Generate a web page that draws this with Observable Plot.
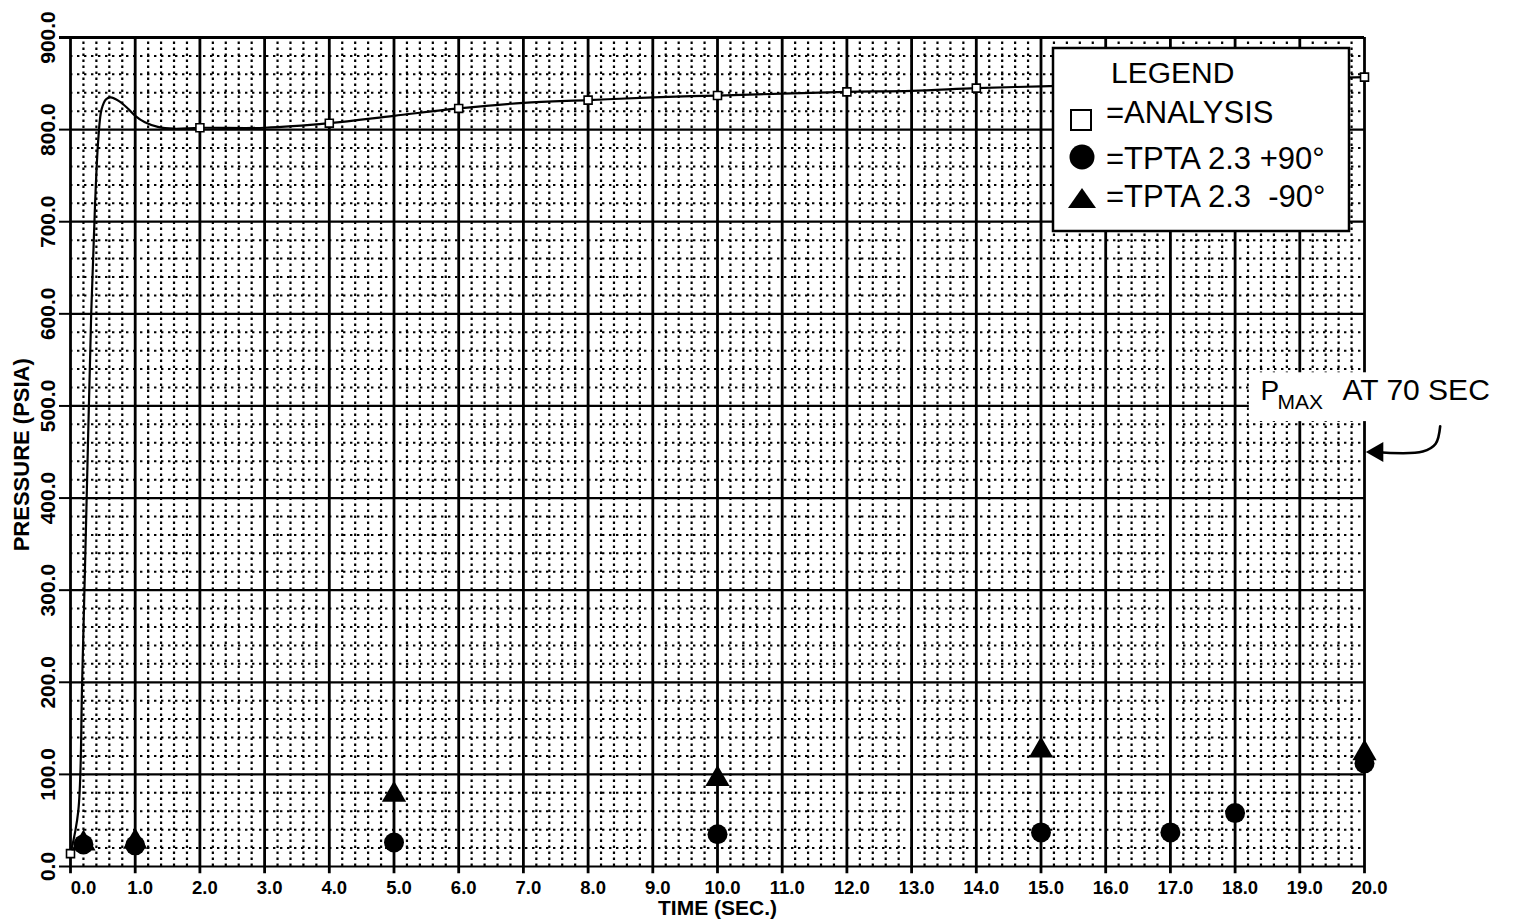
<!DOCTYPE html>
<html>
<head>
<meta charset="utf-8">
<script src="https://cdn.jsdelivr.net/npm/d3@7"></script>
<script src="https://cdn.jsdelivr.net/npm/@observablehq/plot@0.6"></script>
<style>
html,body{margin:0;padding:0;background:#fff;}
#wrap{position:relative;width:1516px;height:924px;overflow:hidden;background:#fff;}
#legend{position:absolute;left:0;top:0;pointer-events:none;font-family:"Liberation Sans",Arial,Helvetica,sans-serif;}
</style>
</head>
<body>
<div id="wrap">
<div id="chart"></div>
<svg id="legend" width="1516" height="924">
  <rect x="1053" y="48" width="296" height="183" fill="#fff" stroke="#000" stroke-width="2.5"/>
  <text x="1111" y="83" font-size="30" fill="#000">LEGEND</text>
  <rect x="1071" y="110" width="20" height="20" fill="none" stroke="#000" stroke-width="2"/>
  <text x="1106" y="123" font-size="31" fill="#000">=ANALYSIS</text>
  <circle cx="1082" cy="157" r="12.5" fill="#000"/>
  <text x="1106" y="169" font-size="31" fill="#000">=TPTA 2.3 +90°</text>
  <path d="M1068,208 L1096,208 L1082,188Z" fill="#000"/>
  <text x="1106" y="207" font-size="31" fill="#000" xml:space="preserve">=TPTA 2.3  -90°</text>
</svg>
</div>
<script>
// ---- data ----
const xTicks = [0,1,2,3,4,5,6,7,8,9,10,11,12,13,14,15,16,17,18,19,20];
const yTicks = [0,100,200,300,400,500,600,700,800,900];

// ANALYSIS curve (time s, pressure psia)
const analysisTime = [0, 0.12, 0.18, 0.25, 0.32, 0.38, 0.43, 0.48, 0.55, 0.62, 0.75, 0.9, 1.0, 1.15, 1.35, 1.6, 2.0, 3.0, 4.0, 5.0, 6.0, 7.0, 8.0, 9.0, 10.0, 11.0, 12.0, 13.0, 14.0, 15.0, 16.0, 17.0, 18.0, 19.0, 20.0];
const analysisPressure = [14, 60, 200, 400, 600, 720, 790, 822, 833, 835, 831, 822, 815, 808, 803, 801, 802, 802, 807, 815, 823, 829, 832, 835, 837, 839, 841, 842, 845, 847, 849, 851, 853, 855, 857];
// ANALYSIS square markers
const squareTime = [0, 2, 4, 6, 8, 10, 12, 14, 20];
const squarePressure = [14, 802, 807, 823, 832, 837, 841, 845, 857];

// TPTA 2.3 +90 (circles)
const plus90Time = [0.2, 1, 5, 10, 15, 17, 18, 20];
const plus90Pressure = [24, 23, 26, 35, 37, 37, 58, 112];

// TPTA 2.3 -90 (triangles)
const minus90Time = [0.2, 1, 5, 10, 15, 20];
const minus90Pressure = [25, 27, 78, 95, 126, 123];

// annotation: P_MAX at 70 sec, arrow pointing at 20 s line
const pmaxAt = {time: 20, pressure: 450};
const arrowTime = [20.15, 20.9, 21.1, 21.17];
const arrowPressure = [450, 450.5, 459, 478];

// ---- derived tables ----
const analysis = analysisTime.map((t, i) => ({t, p: analysisPressure[i]}));
const squares = squareTime.map((t, i) => ({t, p: squarePressure[i]}));
const plus90 = plus90Time.map((t, i) => ({t, p: plus90Pressure[i]}));
const minus90 = minus90Time.map((t, i) => ({t, p: minus90Pressure[i]}));
const arrow = arrowTime.map((t, i) => ({t, p: arrowPressure[i]}));

const minorX = d3.range(0, 101).filter(i => i % 5 !== 0).map(i => i / 5);
const minorY = d3.range(0, 46).filter(i => i % 5 !== 0).map(i => i * 20);

const FONT = '"Liberation Sans", Arial, Helvetica, sans-serif';
const fmt = d3.format(".1f");
const tickStyle = {y: 0, text: d => fmt(d), dy: 22, lineAnchor: "middle", textAnchor: "middle", fontSize: 18.5, fontWeight: "bold", fill: "#000"};

const chart = Plot.plot({
  width: 1516,
  height: 924,
  marginLeft: 70,
  marginRight: 152,
  marginTop: 37,
  marginBottom: 58,
  x: {domain: [0, 20], axis: null},
  y: {domain: [0, 900], axis: null},
  style: {background: "#fff", fontFamily: FONT, overflow: "visible", color: "#000"},
  marks: [
    // minor dotted grid
    Plot.ruleX(minorX, {x: d => d, y1: 0, y2: 900, stroke: "#000", strokeWidth: 2.2, strokeDasharray: "2.4,3.6"}),
    Plot.ruleY(minorY, {y: d => d, x1: 0, x2: 20, stroke: "#000", strokeWidth: 2, strokeDasharray: "2.4,4.6"}),
    // major grid
    Plot.ruleY(yTicks, {y: d => d, x1: 0, x2: 20, stroke: "#000", strokeWidth: 2.2}),
    Plot.ruleY(yTicks, {y: d => d, x1: -0.17, x2: 0, stroke: "#000", strokeWidth: 2}),
    Plot.ruleX(xTicks, {x: d => d, y1: -8, y2: 900, stroke: "#000", strokeWidth: 2.8}),
    Plot.ruleY([900], {x1: -0.17, x2: 20, stroke: "#000", strokeWidth: 3}),
    // analysis curve
    Plot.line(analysis, {x: "t", y: "p", curve: "catmull-rom", stroke: "#000", strokeWidth: 2.2}),
    Plot.dot(squares, {x: "t", y: "p", symbol: "square", r: 4.5, stroke: "#000", fill: "#fff", strokeWidth: 1.6}),
    // test data
    Plot.dot(plus90, {x: "t", y: "p", symbol: "circle", r: 10, fill: "#000", stroke: "none"}),
    Plot.dot(minus90, {x: "t", y: "p", symbol: "triangle", r: 9, fill: "#000", stroke: "none"}),
    // annotation background
    Plot.rect([pmaxAt], {x1: d => d.time - 1.78, x2: d => d.time + 2.2, y1: d => d.pressure + 33, y2: d => d.pressure + 86, fill: "#fff"}),
    Plot.text([pmaxAt], {x: d => d.time, y: d => d.pressure, text: () => "P", dx: -104, dy: -52, textAnchor: "start", lineAnchor: "bottom", fontSize: 28, fill: "#000"}),
    Plot.text([pmaxAt], {x: d => d.time, y: d => d.pressure, text: () => "MAX", dx: -87, dy: -43, textAnchor: "start", lineAnchor: "bottom", fontSize: 21, fill: "#000"}),
    Plot.text([pmaxAt], {x: d => d.time, y: d => d.pressure, text: () => "AT 70 SEC", dx: -22, dy: -52, textAnchor: "start", lineAnchor: "bottom", fontSize: 30, fill: "#000"}),
    Plot.line(arrow, {x: "t", y: "p", curve: "catmull-rom", stroke: "#000", strokeWidth: 2.6}),
    Plot.dot([pmaxAt], {x: d => d.time, y: d => d.pressure, dx: 13, symbol: "triangle", rotate: -90, r: 7.5, fill: "#000", stroke: "none"}),
    // tick labels
    Plot.text(xTicks.filter(d => d === 0), {...tickStyle, x: d => d, dx: 13}),
    Plot.text(xTicks.filter(d => d !== 0), {...tickStyle, x: d => d, dx: 5}),
    Plot.text(yTicks, {x: 0, y: d => d, text: d => fmt(d), rotate: -90, dx: -22, textAnchor: "middle", lineAnchor: "middle", fontSize: 21, fontWeight: "bold", fill: "#000"}),
    // axis titles
    Plot.text(["TIME (SEC.)"], {x: 10, y: 0, text: d => d, dy: 42, lineAnchor: "middle", textAnchor: "middle", fontSize: 21, fontWeight: "bold", fill: "#000"}),
    Plot.text(["PRESSURE (PSIA)"], {x: 0, y: 447, text: d => d, rotate: -90, dx: -49, lineAnchor: "middle", textAnchor: "middle", fontSize: 22, fontWeight: "bold", fill: "#000"})
  ]
});
document.getElementById("chart").appendChild(chart);
</script>
</body>
</html>
